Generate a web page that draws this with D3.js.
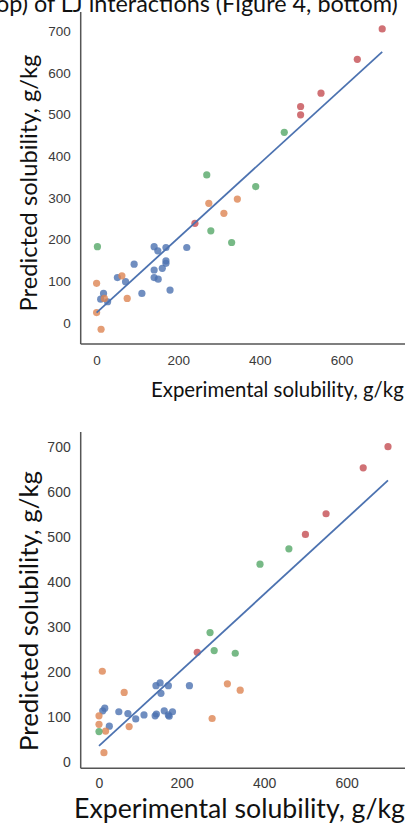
<!doctype html>
<html lang="en">
  <head>
    <meta charset="utf-8">
    <script src="https://d3js.org/d3.v7.min.js"></script>
    <style>
      body { margin: 0; background: #fff; }
      svg { display: block; }
    </style>
  </head>
  <body>
<div id="my_dataviz"></div>
<script>

    // ---- data ----
    // upper panel
    var topBlue = [[141,183],[150,173],[170,181],[221,181],[92,141],[170,149],[170,143],[141,127],[161,131],
                   [51,109],[71,99],[141,109],[151,105],[180,79],[111,71],[17,71],[10,57],[27,51]];
    var topOrange = [[345,297],[275,287],[312,263],[62,113],[75,59],[0,95],[19,59],[0,25],[11,-15]];
    var topGreen = [[270,355],[460,457],[390,327],[280,221],[331,193],[2,183]];
    var topRed = [[700,705],[639,632],[550,551],[500,519],[500,499],[241,239]];
    var topFit = [[0,25],[700,650]];

    // lower panel
    var botBlue = [[9,113],[14,119],[48,111],[70,107],[89,95],[109,104],[136,102],[139,106],[158,113],
                   [168,104],[170,101],[178,111],[25,79],[138,169],[148,175],[150,152],[168,169],[219,169]];
    var botOrange = [[8,201],[61,154],[311,173],[342,159],[0,102],[0,83],[16,68],[73,78],[274,96],[12,20]];
    var botGreen = [[0,67],[269,287],[279,247],[330,241],[390,439],[460,473]];
    var botRed = [[238,243],[500,505],[550,551],[640,653],[700,700]];
    var botFit = [[0,35],[700,625]];

    var xTicks = [0, 200, 400, 600];
    var yTicks = [0, 100, 200, 300, 400, 500, 600, 700];

    var colors = {blue: "#4C72B0", orange: "#DD8452", green: "#55A868", red: "#C44E52"};

    var W = 408, H = 827;
    var svg = d3.select("#my_dataviz")
      .append("svg")
        .attr("width", W)
        .attr("height", H);

    // scale a label's font so it covers the width measured on the picture
    function fitText(sel, width) {
      var fs = parseFloat(sel.attr("font-size"));
      var len = sel.node().getComputedTextLength();
      sel.attr("font-size", (fs * width / len).toFixed(2));
    }

    // clipped caption line from the page above
    var cap = svg.append("text")
      .attr("x", -4)
      .attr("y", 12)
      .attr("font-family", "Lato, 'Open Sans', sans-serif")
      .attr("font-size", 22)
      .attr("fill", "#111")
      .text("op) of LJ interactions (Figure 4, bottom)");
    fitText(cap, 402);

    function panel(p) {
      var g = svg.append("g");

      var x = d3.scaleLinear().domain([0, 600]).range(p.xr);
      var y = d3.scaleLinear().domain([0, 700]).range(p.yr);

      // axes, no tick marks
      g.append("g")
        .attr("transform", "translate(0," + p.axisY + ")")
        .call(d3.axisBottom(x).tickValues(xTicks).tickSize(0).tickPadding(p.xPad))
        .call(function(a) { a.select(".domain").remove(); })
        .selectAll("text")
          .attr("font-family", "'Liberation Sans', Arial, sans-serif")
          .attr("font-size", p.tickFs)
          .attr("fill", "#3a3a3a");

      g.append("g")
        .attr("transform", "translate(" + p.axisX + ",0)")
        .call(d3.axisLeft(y).tickValues(yTicks).tickSize(0).tickPadding(10))
        .call(function(a) { a.select(".domain").remove(); })
        .selectAll("text")
          .attr("font-family", "'Liberation Sans', Arial, sans-serif")
          .attr("font-size", p.tickFs)
          .attr("fill", "#3a3a3a");

      g.append("line")
        .attr("x1", p.axisX).attr("x2", p.axisX)
        .attr("y1", p.axisTop).attr("y2", p.axisY)
        .attr("stroke", "#555").attr("stroke-width", 1.5);
      g.append("line")
        .attr("x1", p.axisX).attr("x2", p.axisRight)
        .attr("y1", p.axisY).attr("y2", p.axisY)
        .attr("stroke", "#555").attr("stroke-width", 1.5);

      // points
      p.groups.forEach(function(grp) {
        g.selectAll(null)
          .data(grp.data)
          .enter()
          .append("circle")
            .attr("cx", function(d) { return x(d[0]); })
            .attr("cy", function(d) { return y(d[1]); })
            .attr("r", 3.6)
            .attr("fill", colors[grp.color])
            .attr("fill-opacity", 0.8);
      });

      // regression line
      g.append("path")
        .datum(p.fit)
        .attr("fill", "none")
        .attr("stroke", colors.blue)
        .attr("stroke-width", 1.8)
        .attr("d", d3.line().x(function(d) { return x(d[0]); }).y(function(d) { return y(d[1]); }));

      // axis titles
      var xl = g.append("text")
        .attr("x", p.xLabel[0])
        .attr("y", p.xLabel[1])
        .attr("font-family", "Lato, 'Open Sans', sans-serif")
        .attr("font-size", 22)
        .attr("fill", "#111")
        .text("Experimental solubility, g/kg");
      fitText(xl, p.xLabel[2]);

      var yl = g.append("text")
        .attr("transform", "translate(" + p.yLabel[0] + "," + p.yLabel[1] + ")rotate(-90)")
        .attr("text-anchor", "middle")
        .attr("font-family", "Lato, 'Open Sans', sans-serif")
        .attr("font-size", 22)
        .attr("fill", "#111")
        .text("Predicted solubility, g/kg");
      fitText(yl, p.yLabel[2]);
    }

    panel({
      xr: [96.6, 341.4], yr: [323, 31],
      axisX: 80.7, axisY: 344, axisTop: 12, axisRight: 405,
      xPad: 11, tickFs: 13.5,
      groups: [{data: topBlue, color: "blue"}, {data: topOrange, color: "orange"},
               {data: topGreen, color: "green"}, {data: topRed, color: "red"}],
      fit: topFit,
      xLabel: [151, 397, 253],
      yLabel: [37, 183, 257]
    });

    panel({
      xr: [99, 346.7], yr: [761.7, 446.7],
      axisX: 80.7, axisY: 768.3, axisTop: 432, axisRight: 405,
      xPad: 10, tickFs: 14,
      groups: [{data: botBlue, color: "blue"}, {data: botOrange, color: "orange"},
               {data: botGreen, color: "green"}, {data: botRed, color: "red"}],
      fit: botFit,
      xLabel: [74, 818, 331],
      yLabel: [38, 611, 280]
    });

</script>
</body>
</html>
